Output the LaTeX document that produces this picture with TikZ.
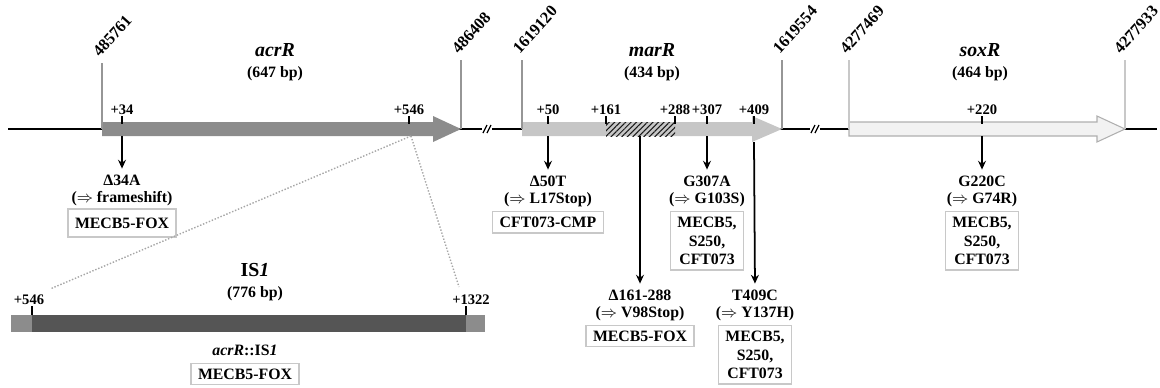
\documentclass[tikz,border=0pt]{standalone}
\usepackage{fontspec}
\setmainfont{Liberation Serif}
\usepackage{xcolor}
\definecolor{acrgray}{RGB}{140, 140, 140}
\definecolor{margray}{RGB}{198, 198, 198}
\definecolor{soxfill}{RGB}{242, 242, 242}
\definecolor{soxline}{RGB}{175, 175, 175}
\definecolor{isdark}{RGB}{85, 85, 85}
\definecolor{boxgray}{RGB}{200, 200, 200}
\definecolor{bordergray}{RGB}{150, 150, 150}
\usepackage{tikz}
\usetikzlibrary{arrows.meta, positioning, patterns.meta}

\tikzset{
  genelabel/.style={font=\fontsize{11.3}{13}\selectfont\bfseries\itshape, inner sep=0pt},
  sizelabel/.style={font=\fontsize{9}{10}\selectfont\bfseries, inner sep=0pt},
  poslabel/.style={font=\fontsize{9.3}{10}\selectfont\bfseries, rotate=48, anchor=south west, inner sep=0pt},
  ticklabel/.style={font=\fontsize{8.3}{9}\selectfont\bfseries, anchor=south, inner sep=0.5pt},
  mutlabel/.style={font=\fontsize{9}{10}\selectfont\bfseries, align=center, anchor=north, inner sep=1pt,
    execute at begin node={\setlength{\baselineskip}{9.8pt}}},
  strainbox/.style={draw=boxgray, line width=0.7pt, font=\fontsize{9}{10}\selectfont\bfseries, align=center,
    inner xsep=4pt, inner ysep=3pt, execute at begin node={\setlength{\baselineskip}{10.6pt}}},
  mutarrow/.style={-{Stealth[length=5pt, width=4.5pt]}, line width=1pt, shorten >=2.5pt},
  posmark/.style={line width=1.1pt},
  boundline/.style={bordergray, line width=0.8pt},
}

\begin{document}
\begin{tikzpicture}[x=0.02cm, y=-0.02cm]
    \useasboundingbox (0,0) rectangle (1160,387);

    % Chromosome line with breaks
    \draw[line width=0.9pt] (8,129) -- (1157,129);
    \foreach \bx in {487, 815} {
        \fill[white] (\bx-5,124) rectangle (\bx+5,134);
        \draw[line width=0.7pt] (\bx-4,133) -- (\bx,125);
        \draw[line width=0.7pt] (\bx,133) -- (\bx+4,125);
    }

    % acrR gene
    \fill[acrgray] (102,122) -- (433,122) -- (433,116) -- (461,129) -- (433,142) -- (433,136) -- (102,136) -- cycle;
    \draw[boundline] (102,63) -- (102,129);
    \draw[boundline] (461,60) -- (461,129);
    \node[poslabel] (p485761) at (100,58) {485761};
    \node[poslabel] (p486408) at (459,55) {486408};
    \node[genelabel] (acrR) at (275,50) {acrR};
    \node[sizelabel, below=5pt of acrR] (acrsize) {(647 bp)};

    % marR gene with deleted region
    \fill[margray] (522,122) -- (752,122) -- (752,116) -- (782,129) -- (752,142) -- (752,136) -- (522,136) -- cycle;
    \fill[pattern={Lines[angle=45, distance=2.2pt, line width=0.6pt]}, pattern color=black!90] (606,122) rectangle (675,136);
    \draw[boundline] (522,60) -- (522,129);
    \draw[boundline] (782,60) -- (782,129);
    \node[poslabel] (p1619120) at (520,55) {1619120};
    \node[poslabel] (p1619554) at (780,55) {1619554};
    \node[genelabel] (marR) at (652,50) {marR};
    \node[sizelabel, below=5pt of marR] (marsize) {(434 bp)};

    % soxR gene
    \draw[soxline, fill=soxfill, line width=0.6pt] (849,122) -- (1097,122) -- (1097,116) -- (1125,129) -- (1097,142) -- (1097,136) -- (849,136) -- cycle;
    \draw[boxgray, line width=0.8pt] (849,60) -- (849,129);
    \draw[boxgray, line width=0.8pt] (1125,60) -- (1125,129);
    \node[poslabel] (p4277469) at (847,55) {4277469};
    \node[poslabel] (p4277933) at (1121,55) {4277933};
    \node[genelabel] (soxR) at (980,50) {soxR};
    \node[sizelabel, below=5pt of soxR] (soxsize) {(464 bp)};

    % Positions of the mutations
    \foreach \px/\pl in {122/34, 409/546, 548/50, 606/161, 675/288, 707/307, 754/409, 982/220} {
        \draw[posmark] (\px,116) -- (\px,124);
        \node[ticklabel] (t\pl) at (\px,116) {+\pl};
    }
    \coordinate (m34) at (122,136);
    \coordinate (m546) at (411,136);
    \coordinate (m50) at (548,136);
    \coordinate (mdel) at (640,136);
    \coordinate (m307) at (707,136);
    \coordinate (m409) at (754,142);
    \coordinate (m220) at (982,136);

    % Mutations and strains
    \node[mutlabel] (d34) at (122,173) {Δ34A\\($\Rightarrow$ frameshift)};
    \node[strainbox, below=0pt of d34, inner ysep=5pt] (s34) {MECB5-FOX};
    \draw[mutarrow] (m34) -- (d34.north);

    \node[mutlabel] (d50) at (548,174) {Δ50T\\($\Rightarrow$ L17Stop)};
    \node[strainbox, below=1pt of d50] (s50) {CFT073-CMP};
    \draw[mutarrow] (m50) -- (d50.north);

    \node[mutlabel] (ddel) at (640,288) {Δ161-288\\($\Rightarrow$ V98Stop)};
    \node[strainbox, below=1pt of ddel] (sdel) {MECB5-FOX};
    \draw[mutarrow] (mdel) -- (ddel.north);

    \node[mutlabel] (d307) at (707,174) {G307A\\($\Rightarrow$ G103S)};
    \node[strainbox, below=1pt of d307] (s307) {MECB5,\\S250,\\CFT073};
    \draw[mutarrow] (m307) -- (d307.north);

    \node[mutlabel] (d409) at (755,288) {T409C\\($\Rightarrow$ Y137H)};
    \node[strainbox, below=1pt of d409] (s409) {MECB5,\\S250,\\CFT073};
    \draw[mutarrow] (m409) -- (d409.north);

    \node[mutlabel] (d220) at (982,174) {G220C\\($\Rightarrow$ G74R)};
    \node[strainbox, below=1pt of d220] (s220) {MECB5,\\S250,\\CFT073};
    \draw[mutarrow] (m220) -- (d220.north);

    % IS1 insertion
    \fill[acrgray] (11,315) rectangle (485,332);
    \fill[isdark] (32,315) rectangle (466,332);
    \draw[posmark] (32,306) -- (32,315);
    \draw[posmark] (466,306) -- (466,315);
    \node[ticklabel] (i546) at (29,306) {+546};
    \node[ticklabel] (i1322) at (471,306) {+1322};
    \node[genelabel, font=\fontsize{11.3}{13}\selectfont\bfseries] (is1) at (255,270) {IS\textit{1}};
    \node[sizelabel, below=5pt of is1] (issize) {(776 bp)};
    \node[sizelabel] (acris) at (245,350) {\textit{acrR}::IS\textit{1}};
    \node[strainbox, below=4pt of acris] (sis) {MECB5-FOX};
    \draw[gray!70, densely dotted, line width=0.8pt] (m546) -- (50,289);
    \draw[gray!70, densely dotted, line width=0.8pt] (m546) -- (459,287);

\end{tikzpicture}
\end{document}
